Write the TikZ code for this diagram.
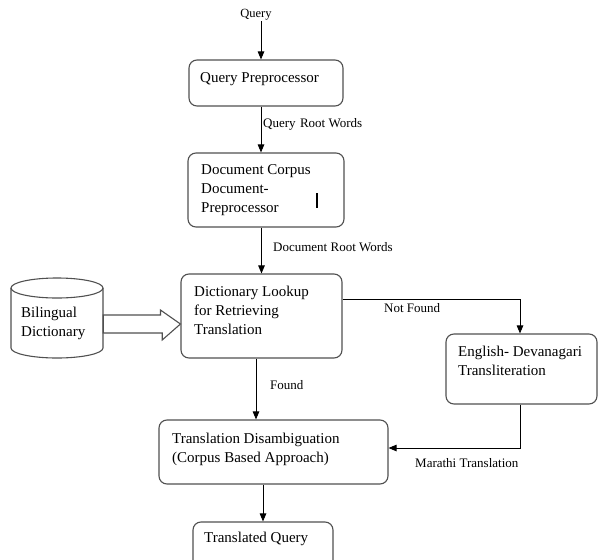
\documentclass[tikz,border=0pt]{standalone}
\usepackage{fontspec}
\setmainfont{Liberation Serif}
\usetikzlibrary{arrows.meta,calc}
\definecolor{boxgray}{RGB}{80,80,80}
\tikzset{
  box/.style={draw=boxgray, line width=1.1pt, rounded corners=8pt, inner sep=0pt},
  boxtext/.style={anchor=north west, inner sep=0pt, align=left, font=\fontsize{15}{19}\selectfont},
  lbl/.style={anchor=west, inner sep=0pt, font=\fontsize{13}{14}\selectfont},
  conn/.style={draw=black, line width=0.9pt},
  arr/.style={conn, -{Triangle[length=8pt,width=6.5pt]}},
  hollow/.style={draw=boxgray, line width=1.1pt, fill=white, line join=miter},
}
\begin{document}
\begin{tikzpicture}[x=1pt,y=-1pt]
\useasboundingbox (0,0) rectangle (598,560);
\clip (0,0) rectangle (598,560);

% boxes
\node[box, minimum width=154pt, minimum height=46pt] (qp) at (266,83) {};
\node[box, minimum width=156pt, minimum height=74pt] (dc) at (266,190) {};
\node[box, minimum width=161pt, minimum height=84pt] (dl) at (261.5,316) {};
\node[box, minimum width=151pt, minimum height=70pt] (en) at (521.5,369) {};
\node[box, minimum width=229pt, minimum height=64pt] (td) at (273.5,452) {};
\node[box, minimum width=140pt, minimum height=54pt] (tq) at (263,549) {};

% box texts
\node[boxtext] (qpt) at (200,72.8) {Query Preprocessor};
\node[boxtext] (dct) at (201,164.8) {Document Corpus\\Document-\\Preprocessor};
\node[boxtext] (dlt) at (194,285.8) {Dictionary Lookup\\for Retrieving\\Translation};
\node[boxtext] (ent) at (458,345.8) {English- Devanagari\\Transliteration};
\node[boxtext] (tdt) at (172,432.8) {Translation Disambiguation\\(Corpus Based Approach)};
\node[boxtext] (tqt) at (204,531.8) {Translated Query};

% cursor mark
\draw[line width=1.8pt] (317,193) -- (317,208);

% cylinder
\draw[boxgray, line width=1.1pt, fill=white]
  (11,288) -- (11,348) arc[start angle=180, end angle=360, x radius=46, y radius=-10]
  -- (103,288);
\draw[boxgray, line width=1.1pt] (57,288) ellipse[x radius=46, y radius=10];
\node[inner sep=0pt, minimum width=92pt, minimum height=80pt] (cyl) at (57,318) {};
\node[boxtext] (cylt) at (21,306.8) {Bilingual\\Dictionary};

% hollow arrow from cylinder to dictionary lookup
\draw[hollow] ([yshift=-8pt]dl.west) -- ++(-20,-14) -- ++(0,5) -- (cyl.east |- 0,315)
  -- (cyl.east |- 0,333) -- ++(59,0) -- ++(0,7) -- cycle;

% labels
\node[inner sep=0pt, font=\fontsize{12.5}{14}\selectfont] (ql) at (256,15) {Query};
\node[lbl] (qrw) at (263,124) {Query\,\,Root Words};
\node[lbl] (drw) at (273,247) {Document Root Words};
\node[lbl] (nf) at (384,308) {Not Found};
\node[lbl] (fd) at (270,385) {Found};
\node[lbl] (mt) at (415,463) {Marathi Translation};

% connectors
\coordinate (qa) at (261,21);
\draw[arr] (qa) -- (qa |- qp.north);
\draw[arr] ([xshift=-5pt]qp.south) -- ([xshift=-5pt]qp.south |- dc.north);
\draw[arr] (dl.north |- dc.south) -- (dl.north);
\draw[arr] ([yshift=17pt]dl.east) -| ([xshift=-1.5pt]en.north);
\draw[arr] ([xshift=-5.5pt]dl.south) -- ([xshift=-5.5pt]dl.south |- td.north);
\draw[arr] ([xshift=-1.5pt]en.south) |- ([yshift=4pt]td.east);
\draw[arr] (tq.north |- td.south) -- (tq.north);
\end{tikzpicture}
\end{document}
